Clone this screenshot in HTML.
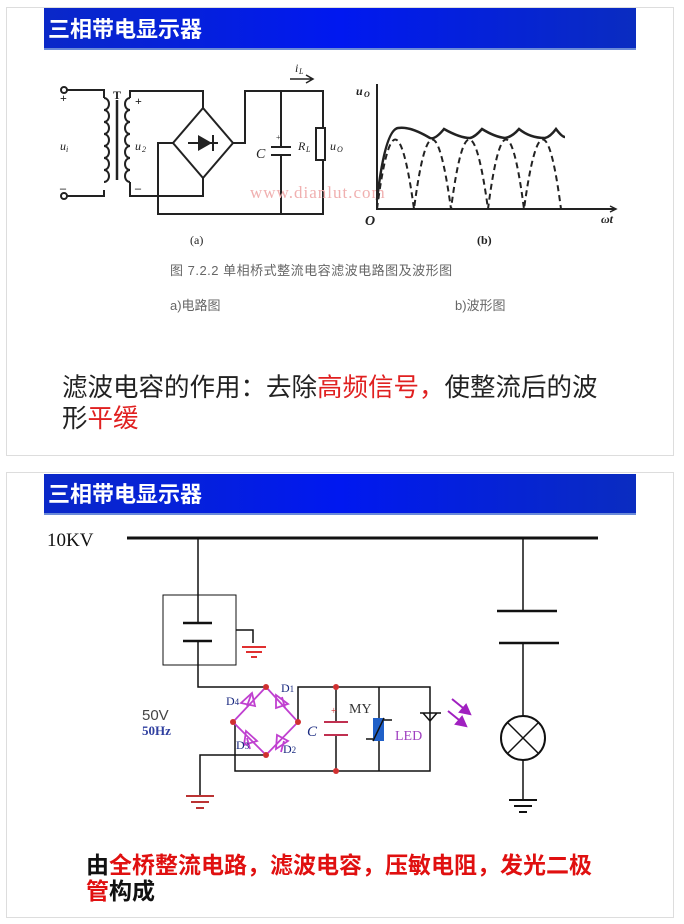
<!DOCTYPE html>
<html><head><meta charset="utf-8"><style>
body{margin:0;background:#fff;width:684px;height:924px;overflow:hidden}
svg{display:block}
text{font-family:"Liberation Serif","Noto Serif CJK SC",serif}
.cjk{font-family:"Liberation Sans","Noto Sans CJK SC",sans-serif}
</style></head><body>
<svg width="684" height="924" viewBox="0 0 684 924" xmlns="http://www.w3.org/2000/svg">
<defs>
<linearGradient id="hb" x1="0" x2="1" y1="0" y2="0">
<stop offset="0" stop-color="#0a28c8"/><stop offset="0.5" stop-color="#0018f0"/><stop offset="1" stop-color="#0a2cc0"/>
</linearGradient>
</defs>
<!-- slide 1 -->
<rect x="6.5" y="7.5" width="667" height="448" fill="#fff" stroke="#ddd"/>
<rect x="44" y="8" width="592" height="41" fill="url(#hb)"/>
<rect x="44" y="48" width="592" height="2" fill="#6a8ad8"/>
<text x="48" y="37" class="cjk" font-size="22" font-weight="bold" fill="#fff">三相带电显示器</text>

<g stroke="#222" stroke-width="2" fill="none">
<circle cx="64" cy="90" r="3"/><circle cx="64" cy="196" r="3"/>
<path d="M67 90H104V98M67 196H104V190"/>
<path d="M104 98a5 6 0 0 1 0 12a5 6 0 0 1 0 12a5 6 0 0 1 0 12a5 6 0 0 1 0 12a5 6 0 0 1 0 12a5 6 0 0 1 0 12a5 6 0 0 1 0 12"/>
<path d="M117 100V180" stroke-width="2.5"/>
<path d="M130 98a5 6 0 0 0 0 12a5 6 0 0 0 0 12a5 6 0 0 0 0 12a5 6 0 0 0 0 12a5 6 0 0 0 0 12a5 6 0 0 0 0 12a5 6 0 0 0 0 12"/>
<path d="M130 98V91H203V108M130 182V196H203V178"/>
<path d="M203 108L233 143L203 178L173 143Z"/>
<path d="M173 143H158V214H323V160M233 143H245V91H323V128"/>
<rect x="316" y="128" width="9" height="32"/>
<path d="M281 91V147M281 155V214M271 147H291M271 155H291"/>
<path d="M188 143H218M213 135V151"/>
</g>
<path d="M198 135L212 143L198 151Z" fill="#222"/>
<path d="M290 79H313M306 75L313 79L306 83" stroke="#222" stroke-width="1.5" fill="none"/>
<g fill="#222" font-style="italic" font-size="12">
<text x="60" y="102" font-style="normal" font-weight="bold">+</text>
<text x="60" y="192" font-style="normal" font-weight="bold">–</text>
<text x="60" y="150">u</text><text x="66" y="152" font-size="8">i</text>
<text x="113" y="99" font-style="normal" font-weight="bold">T</text>
<text x="135" y="105" font-style="normal" font-weight="bold">+</text>
<text x="135" y="192" font-style="normal" font-weight="bold">–</text>
<text x="135" y="150">u</text><text x="142" y="152" font-size="8">2</text>
<text x="256" y="158" font-size="14">C</text>
<text x="276" y="140" font-style="normal" font-size="8">+</text>
<text x="298" y="150">R</text><text x="306" y="152" font-size="8">L</text>
<text x="330" y="150">u</text><text x="337" y="152" font-size="8">O</text>
<text x="295" y="72">i</text><text x="299" y="74" font-size="8">L</text>
<text x="190" y="244" font-style="normal">(a)</text>
</g>
<text x="250" y="198" font-size="17" fill="#f0b0b0" letter-spacing="1">www.dianlut.com</text>
<!-- waveform -->
<g stroke="#222" fill="none">
<path d="M377 84V209H615" stroke-width="2"/>
<path d="M610 206L616 209L610 212" stroke-width="1.5"/>
<path d="M377 209Q395 70 414 209Q432 70 451 209Q469 70 488 209Q506 70 524 209Q543 70 561 209" stroke-width="2" stroke-dasharray="6,4"/>
<path d="M377 200Q385 130 398 128Q410 126 430 138Q435 140 444 129Q460 138 470 138Q475 137 482 129Q495 137 505 138Q512 137 519 129Q530 138 545 138Q550 137 556 129Q562 137 565 137" stroke-width="2.5"/>
</g>
<g fill="#222" font-size="12" font-style="italic" font-weight="bold">
<text x="356" y="95">u</text><text x="364" y="97" font-size="8">O</text>
<text x="365" y="225" font-size="14">O</text>
<text x="601" y="223">ωt</text>
<text x="477" y="244" font-style="normal">(b)</text>
</g>
<text x="170" y="275" class="cjk" font-size="13" fill="#666" letter-spacing="0.5">图 7.2.2  单相桥式整流电容滤波电路图及波形图</text>
<text x="170" y="310" class="cjk" font-size="13" fill="#666">a)电路图</text>
<text x="455" y="310" class="cjk" font-size="13" fill="#666">b)波形图</text>
<text x="62" y="396" class="cjk" font-size="25.5" fill="#222">滤波电容的作用：去除<tspan fill="#e02020">高频信号，</tspan>使整流后的波</text>
<text x="62" y="427" class="cjk" font-size="25.5" fill="#222">形<tspan fill="#e02020">平缓</tspan></text>

<!-- slide 2 -->
<rect x="6.5" y="472.5" width="667" height="445" fill="#fff" stroke="#ddd"/>
<rect x="44" y="474" width="592" height="40" fill="url(#hb)"/>
<rect x="44" y="513" width="592" height="2" fill="#6a8ad8"/>
<text x="48" y="502" class="cjk" font-size="22" font-weight="bold" fill="#fff">三相带电显示器</text>
<text x="47" y="546" font-size="19" fill="#111">10KV</text>
<g stroke="#111" fill="none">
<path d="M127 538H598" stroke-width="3"/>
<path d="M198 538V623M198 641V687H266M523 538V611M523 643V716M523 760V800" stroke-width="1.5"/>
<path d="M497 611H557M499 643H559M183 623H212M183 641H212" stroke-width="2.5"/>
<rect x="163" y="595" width="73" height="70" stroke-width="1"/>
<path d="M236 630H253V643" stroke-width="1.5"/>
<circle cx="523" cy="738" r="22" stroke-width="2"/>
<path d="M507 722L539 754M539 722L507 754" stroke-width="1.5"/>
<path d="M509 800H537M514 806H532M519 812H527" stroke-width="2"/>
<path d="M298 722V687H430V771H235V722M336 687V722M336 735V771M379 687V771" stroke-width="1.5"/>
<path d="M266 755H200V795" stroke-width="1.5"/>
<path d="M186 796H214M191 802H209M196 808H204" stroke="#b33" stroke-width="2"/>
<path d="M366 739H376L382 720H392" stroke-width="1.5"/>
</g>
<path d="M242 647H266M246 652H262M251 657H257" stroke="#e03030" stroke-width="2"/>
<path d="M324 722H348M324 735H348" stroke="#c03050" stroke-width="2"/>
<rect x="373" y="718" width="11" height="23" fill="#2060c8"/>
<path d="M373 741L384 718" stroke="#111" stroke-width="1.5"/>
<path d="M420 713H441M423 713L430 721L437 713Z" stroke="#111" stroke-width="1.5" fill="none"/>
<g stroke="#a020c0" stroke-width="2" fill="#a020c0">
<path d="M452 699L468 712M448 711L464 724" fill="none"/>
<path d="M470 714L460 712L466 705Z M466 726L456 724L462 717Z"/>
</g>
<g stroke="#c040d0" stroke-width="1.8" fill="none">
<path d="M266 687L298 722L266 755L233 722Z"/>
<path d="M241 703L252 693L255 706Z M276 695L288 704L276 708Z M244 745L246 731L257 741Z M276 749L277 735L288 741Z"/>
<path d="M251 695L247 706M282 697L285 708M247 738L250 749M284 741L281 752"/>
</g>
<g fill="#d03030">
<circle cx="266" cy="687" r="3"/><circle cx="298" cy="722" r="3"/><circle cx="266" cy="755" r="3"/><circle cx="233" cy="722" r="3"/>
<circle cx="336" cy="687" r="3"/><circle cx="336" cy="771" r="3"/>
</g>
<g font-size="12" fill="#1a2a80">
<text x="281" y="692">D<tspan font-size="9">1</tspan></text>
<text x="226" y="705">D<tspan font-size="9">4</tspan></text>
<text x="236" y="749">D<tspan font-size="9">3</tspan></text>
<text x="283" y="753">D<tspan font-size="9">2</tspan></text>
<text x="307" y="736" font-style="italic" font-size="15">C</text>
</g>
<text x="331" y="714" font-size="10" fill="#d03030">+</text>
<text x="349" y="713" font-size="14" fill="#333">MY</text>
<text x="395" y="740" font-size="14" fill="#a040c0">LED</text>
<text x="142" y="720" class="cjk" font-size="15" fill="#444">50V</text>
<text x="142" y="735" font-size="13" fill="#3040a0" font-weight="bold">50Hz</text>
<text x="86" y="873" class="cjk" font-size="23" font-weight="bold" fill="#111">由<tspan fill="#e01010">全桥整流电路，滤波电容，压敏电阻，发光二极</tspan></text>
<text x="86" y="899" class="cjk" font-size="23" font-weight="bold" fill="#111"><tspan fill="#e01010">管</tspan>构成</text>
</svg>
</body></html>
